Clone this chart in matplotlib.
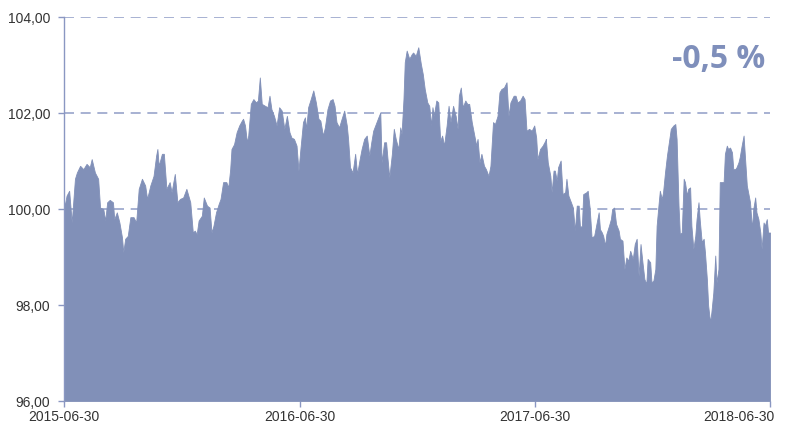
import matplotlib
matplotlib.use("Agg")
import matplotlib.pyplot as plt
import matplotlib.transforms as mtransforms
import pandas as pd
import numpy as np

start_date = "2015-06-30"
tick_dates = ["2015-06-30", "2016-06-30", "2017-06-30", "2018-06-30"]
y_ticks = [96, 98, 100, 102, 104]
change_label = "-0,5 %"

# days since start date
day_offsets = [
    0, 2, 4, 8, 12, 17, 20, 25, 30, 35, 40, 43, 48, 53, 56, 61, 64, 67, 71, 76,
    78, 82, 86, 90, 92, 95, 99, 103, 108, 112, 116, 121, 126, 129, 134, 139, 143, 145, 147, 152,
    155, 159, 164, 167, 172, 176, 180, 185,
    190, 196, 200, 203, 206, 209, 214, 217, 222, 226, 229, 232, 236, 240, 243, 247, 252, 255, 258, 260,
    264, 268, 272, 276, 278, 281, 284, 286, 290, 294, 298, 301, 304, 307, 312, 316, 319, 322, 326, 330,
    334, 338, 342, 346, 350, 353, 357, 361, 364, 367, 371, 374,
    376, 379, 383, 387, 391, 395, 398, 402, 405, 409, 413, 417, 420, 423, 427, 431, 435, 439, 441, 444,
    448, 452, 455, 459, 462, 466, 470, 474, 477, 480, 484, 488, 491, 493, 497, 500, 502, 505, 509, 512,
    515, 519, 522, 524, 527, 529, 532, 536, 540, 542, 546, 550, 554, 557,
    560, 564, 567, 570, 572, 574, 578, 581, 584, 587, 590, 594, 597, 600, 604, 608, 611, 613, 616, 619,
    623, 626, 629, 633, 637, 640, 642, 645, 648, 652, 655, 659, 662, 666, 669, 673, 676, 679, 683, 687,
    690, 693, 698, 701, 704, 708, 712, 715, 718, 722, 726, 730, 733, 735, 739, 743, 747,
    748, 751, 755, 757, 760, 762, 765, 767, 771, 774, 778, 780, 783, 787, 790, 793, 796, 799, 801, 804,
    806, 811, 813, 816, 819, 823, 827, 830, 832, 835, 837, 840, 842, 846, 849, 851, 854, 857, 861, 863,
    867, 870, 873, 876, 879, 883, 886, 889, 892, 895, 898, 901, 904, 906, 910, 912, 915, 918,
    920, 923, 925, 928, 930, 933, 936, 939, 942, 946, 949, 951, 954, 956, 959, 962, 964, 967, 969, 972,
    974, 977, 980, 982, 985, 987, 990, 993, 995, 998, 1000, 1003, 1005, 1008, 1011, 1013, 1016, 1018, 1021, 1024,
    1026, 1029, 1031, 1034, 1037, 1039, 1042, 1044, 1047, 1049, 1052, 1055, 1057, 1060, 1062, 1065, 1068, 1070, 1073, 1075,
    1078, 1081, 1083, 1086, 1088, 1091, 1093, 1096,
]

index_values = [
    100.10, 100.14, 100.28, 100.38, 99.72, 100.63, 100.76, 100.90, 100.83, 100.94, 100.87, 101.04, 100.76, 100.63, 100.03, 100.00, 99.76, 100.14, 100.19, 100.14,
    99.79, 99.93, 99.72, 99.41, 99.10, 99.38, 99.44, 99.83, 99.83, 99.72, 100.42, 100.63, 100.49, 100.21, 100.49, 100.69, 101.11, 101.25, 100.90, 101.15,
    101.15, 100.42, 100.56, 100.35, 100.73, 100.14, 100.21, 100.24,
    100.42, 100.14, 99.51, 99.55, 99.48, 99.76, 99.86, 100.24, 100.07, 100.03, 99.51, 99.65, 99.93, 100.10, 100.21, 100.56, 100.56, 100.45, 100.83, 101.25,
    101.35, 101.60, 101.74, 101.84, 101.88, 101.74, 101.39, 101.53, 102.19, 102.29, 102.22, 102.26, 102.74, 102.19, 102.15, 102.12, 102.36, 102.08, 101.94, 101.74,
    102.12, 102.05, 101.67, 101.94, 101.60, 101.49, 101.46, 101.32, 100.80, 101.25, 101.81, 101.91,
    101.67, 102.12, 102.29, 102.47, 102.22, 101.88, 101.84, 101.53, 101.70, 102.08, 102.26, 102.29, 102.15, 101.81, 101.70, 101.88, 102.05, 101.74, 101.46, 100.87,
    100.76, 101.15, 100.73, 101.04, 101.25, 101.46, 101.53, 101.11, 101.39, 101.63, 101.77, 101.91, 102.01, 100.97, 101.39, 101.39, 101.08, 100.66, 101.15, 101.67,
    101.46, 101.25, 101.70, 101.56, 102.29, 103.06, 103.30, 103.13, 103.23, 103.26, 103.19, 103.37, 103.02, 102.81,
    102.50, 102.22, 102.15, 101.74, 102.12, 101.94, 102.26, 102.22, 101.42, 101.53, 101.32, 101.74, 102.15, 101.81, 102.15, 101.94, 101.67, 102.36, 102.53, 102.12,
    102.26, 102.19, 102.19, 101.81, 101.53, 101.32, 101.46, 100.97, 101.15, 100.90, 100.83, 100.69, 100.90, 101.81, 101.77, 101.94, 102.43, 102.50, 102.53, 102.64,
    101.94, 102.22, 102.36, 102.36, 102.22, 102.26, 102.36, 102.29, 101.63, 101.67, 101.63, 101.74, 101.49, 101.04, 101.25, 101.32, 101.42,
    101.46, 100.97, 100.69, 100.35, 100.80, 100.80, 100.59, 100.87, 101.01, 100.31, 100.35, 100.63, 100.28, 100.14, 100.03, 99.55, 100.07, 100.07, 99.62, 99.65,
    100.31, 100.35, 100.38, 100.03, 99.41, 99.44, 99.72, 99.93, 99.58, 99.51, 99.44, 99.24, 99.48, 99.65, 99.79, 100.00, 100.03, 99.69, 99.55, 99.38,
    99.34, 98.75, 98.99, 98.92, 99.13, 98.96, 99.27, 99.38, 98.61, 99.27, 98.89, 98.54, 98.44, 98.96, 98.89, 98.47, 98.51, 98.75,
    99.65, 100.10, 100.38, 100.21, 100.35, 100.76, 101.11, 101.39, 101.67, 101.74, 101.77, 101.46, 100.07, 99.48, 99.51, 100.63, 100.56, 100.28, 100.42, 100.45,
    99.65, 99.17, 99.44, 99.79, 100.14, 99.76, 99.31, 99.38, 99.10, 98.54, 97.99, 97.64, 97.85, 98.26, 99.03, 98.47, 98.75, 100.56, 100.56, 100.56,
    101.15, 101.32, 101.25, 101.28, 101.18, 100.83, 100.83, 100.87, 100.97, 101.08, 101.32, 101.53, 101.11, 100.49, 100.35, 100.14, 99.58, 100.00, 100.24, 99.93,
    99.79, 99.51, 99.17, 99.72, 99.65, 99.79, 99.51, 99.51,
]

assert len(day_offsets) == len(index_values)

fill_color = "#8190b8"
axis_color = "#8a97c2"
grid_color = "#98a4cb"
text_color = "#333333"

plt.rcParams["font.family"] = ["Liberation Sans", "DejaVu Sans"]

dates = pd.Timestamp(start_date) + pd.to_timedelta(day_offsets, unit="D")
values = np.array(index_values)

fig = plt.figure(figsize=(7.86, 4.27), dpi=100)
ax = fig.add_axes([64 / 786, 25 / 427, 706 / 786, 384 / 427])

ax.fill_between(dates, values, y_ticks[0], color=fill_color, lw=0.6, edgecolor=fill_color, zorder=2)

ax.set_xlim(pd.Timestamp(tick_dates[0]), pd.Timestamp(tick_dates[-1]))
ax.set_ylim(y_ticks[0], y_ticks[-1])

ax.set_yticks(y_ticks)
ax.set_yticklabels([f"{v:.2f}".replace(".", ",") for v in y_ticks])
ax.set_xticks([pd.Timestamp(d) for d in tick_dates])
ax.set_xticklabels(tick_dates)

for v in y_ticks[1:]:
    ax.axhline(v, color=grid_color, lw=1.2, ls=(0, (6, 4)), zorder=1)

for s in ["top", "right", "bottom"]:
    ax.spines[s].set_visible(False)
ax.spines["left"].set_color(axis_color)
ax.spines["left"].set_linewidth(1.0)
ax.spines["left"].set_zorder(3)

ax.tick_params(axis="both", colors=axis_color, length=4, width=1, direction="out",
               labelcolor=text_color, labelsize=10)
ax.tick_params(axis="y", pad=6)
ax.tick_params(axis="x", pad=2)

# keep the last x label inside the figure
last = ax.get_xticklabels()[-1]
last.set_horizontalalignment("right")
last.set_transform(last.get_transform() + mtransforms.ScaledTranslation(5 / 100, 0, fig.dpi_scale_trans))

ax.text(0.993, 0.893, change_label, transform=ax.transAxes, ha="right", va="center",
        fontsize=23, fontweight="bold", color="#7f8fbb", family=["Open Sans", "DejaVu Sans"])

fig.savefig("out.png", dpi=100)
